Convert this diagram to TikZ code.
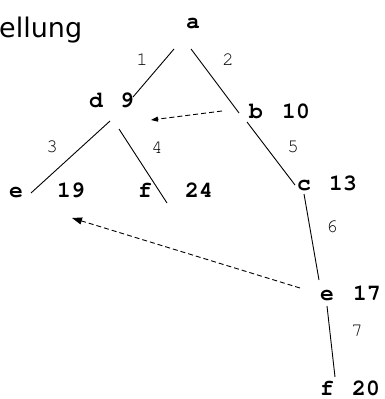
\documentclass[tikz,border=0pt]{standalone}
\usepackage{fontspec}
\usetikzlibrary{arrows.meta}
\newfontfamily\titlefont{DejaVu Sans}
\newcommand{\courb}{\fontencoding{T1}\fontfamily{pcr}\fontseries{b}\fontshape{n}}
\newcommand{\courm}{\fontencoding{T1}\fontfamily{pcr}\fontseries{m}\fontshape{n}}
\begin{document}
\begin{tikzpicture}[x=1pt,y=-1pt,
  vlabel/.style={inner sep=0pt,anchor=base,font=\courb\fontsize{23}{23}\selectfont},
  elabel/.style={inner sep=0pt,anchor=center,font=\courm\fontsize{19}{19}\selectfont},
  edge/.style={line width=0.9pt},
  hint/.style={line width=0.9pt,dash pattern=on 5pt off 3pt}
]
\useasboundingbox (0,0) rectangle (385,399);
% title (cut off at left)
\node[inner sep=0pt,anchor=base west,font=\titlefont\fontsize{27}{27}\selectfont] (title) at (-1,37) {ellung};
% vertex labels
\node[vlabel] (a) at (193,28) {a};
\node[vlabel] (dl) at (96,107) {d};
\node[vlabel] (dn) at (127,107) {9};
\node[vlabel] (bl) at (256,118) {b};
\node[vlabel] (bn) at (296,118) {10};
\node[vlabel] (cl) at (304,190) {c};
\node[vlabel] (cn) at (343,190) {13};
\node[vlabel] (el) at (16,197) {e};
\node[vlabel] (en) at (71,197) {19};
\node[vlabel] (fl) at (145,197) {f};
\node[vlabel] (fn) at (199,197) {24};
\node[vlabel] (e2l) at (327,300) {e};
\node[vlabel] (e2n) at (367,300) {17};
\node[vlabel] (f2l) at (327,395) {f};
\node[vlabel] (f2n) at (366,395) {20};
% edge labels
\node[elabel] (l1) at (142,59) {1};
\node[elabel] (l2) at (228,59) {2};
\node[elabel] (l3) at (52,147) {3};
\node[elabel] (l4) at (157,147) {4};
\node[elabel] (l5) at (293,147) {5};
\node[elabel] (l6) at (332,227) {6};
\node[elabel] (l7) at (357,331) {7};
% connector end points
\coordinate (ad1) at (174,49);  \coordinate (ad2) at (133,97);
\coordinate (ab1) at (191,49);  \coordinate (ab2) at (239,113);
\coordinate (de1) at (110,121); \coordinate (de2) at (31,193);
\coordinate (df1) at (119,129); \coordinate (df2) at (167,203);
\coordinate (bc1) at (247,122); \coordinate (bc2) at (295,185);
\coordinate (ce1) at (304,194); \coordinate (ce2) at (319,280);
\coordinate (ef1) at (327,306); \coordinate (ef2) at (335,377);
\coordinate (h1s) at (222,111); \coordinate (h1e) at (151,120);
\coordinate (h2s) at (300,288); \coordinate (h2e) at (72,218);
% tree edges
\draw[edge] (ad1) -- (ad2);
\draw[edge] (ab1) -- (ab2);
\draw[edge] (de1) -- (de2);
\draw[edge] (df1) -- (df2);
\draw[edge] (bc1) -- (bc2);
\draw[edge] (ce1) -- (ce2);
\draw[edge] (ef1) -- (ef2);
% dashed pointers
\draw[hint,-{Triangle[length=7pt,width=5pt]}] (h1s) -- (h1e);
\draw[hint,-{Triangle[length=10pt,width=7pt]}] (h2s) -- (h2e);
\end{tikzpicture}
\end{document}
